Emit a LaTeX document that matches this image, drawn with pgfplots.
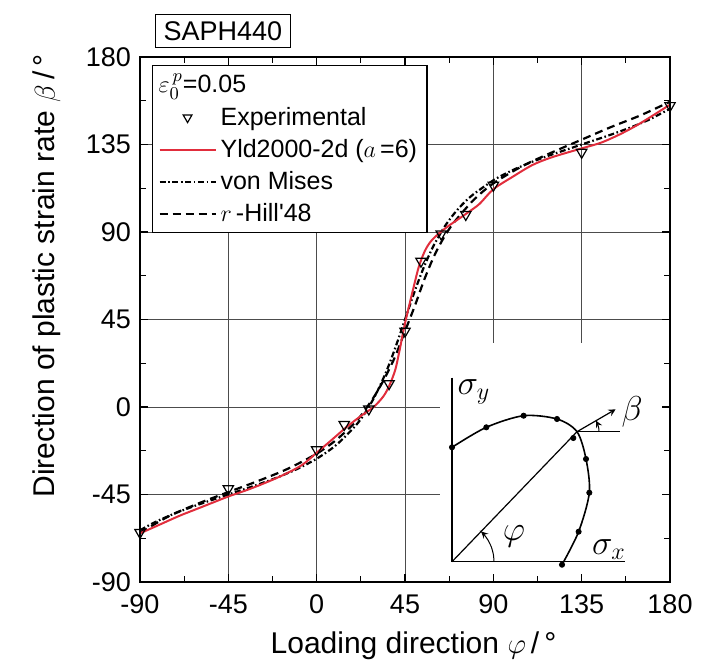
\documentclass[border=0pt]{standalone}
\usepackage{pgfplots}
\pgfplotsset{compat=1.18}
\usepackage{fontspec}
\setmainfont{Liberation Sans}
\definecolor{yldred}{RGB}{225,45,60}
\begin{document}
\begin{tikzpicture}[>=stealth]
\pgfplotsset{
 commonframe/.style={
  scale only axis, width=265pt, height=262.5pt,
  xmin=-90,xmax=180,ymin=-90,ymax=180,
  xtick={-90,-45,...,180}, ytick={-90,-45,...,180},
  minor x tick num=1, minor y tick num=1,
  tick align=inside, major tick length=4pt, minor tick length=3pt,
  every tick/.style={black, line width=0.6pt},
  axis line style={line width=1.1pt},
 }
}
\begin{axis}[name=main, commonframe,
  grid=major, grid style={line width=0.5pt, black!70},
  clip=false,
  /pgf/number format/assume math mode=true,
  tick label style={font=\fontsize{13.5}{15}\selectfont},
  xticklabel style={yshift=-3pt},
  yticklabel style={xshift=-1pt},
  xlabel={Loading direction $\varphi$\,/\,°},
  ylabel={Direction of plastic strain rate $\beta$\,/\,°},
  label style={font=\fontsize{15}{17}\selectfont},
  xlabel style={at={(axis description cs:0.516,-0.137)}, anchor=base},
  ylabel style={at={(axis description cs:-0.1604,0.583)}, anchor=base},
  legend image code/.code={\draw[mark repeat=2,mark phase=2,#1] plot coordinates {(0pt,0pt) (14pt,0pt) (28pt,0pt)};},
  legend cell align=left,
  legend style={at={(axis description cs:0.0226,0.985)}, anchor=north west,
    draw=black, line width=0.6pt, fill=white, inner xsep=3pt, inner ysep=2pt,
    row sep=1.5pt,
    font=\fontsize{12.5}{14.5}\selectfont},
]
\addlegendimage{empty legend}
\addlegendentry{\hspace*{-31pt}$\varepsilon_0^{\,p}$=0.05}
\addlegendimage{only marks, mark=triangle, mark size=2.5pt, mark options={rotate=180, fill=white, line width=0.6pt, solid}}
\addlegendentry{Experimental}
\addlegendimage{yldred, line width=1pt}
\addlegendentry{Yld2000-2d ($a$\,=6)}
\addlegendimage{black, line width=1pt, dash pattern=on 3pt off 1.3pt on 0.8pt off 1.3pt}
\addlegendentry{von Mises}
\addlegendimage{black, line width=1pt, dash pattern=on 4pt off 2.5pt}
\addlegendentry{$r$\,-Hill\textquotesingle 48}

% r-Hill'48
\addplot[forget plot, black, line width=1.1pt, dash pattern=on 4pt off 2.5pt, smooth, tension=0.5] coordinates {
(-90,-64.7) (-75,-56) (-60,-49.5) (-45,-43.75) (-30,-38.1) (-15,-31.9) (0,-24) (10,-16.9)
(20,-7.5) (25,-1) (30,6.5) (35,15.5) (40,26) (45,39) (50,52) (55,66) (60,78) (65,87.5)
(70,95) (80,106.5) (90,115) (105,124) (120,131) (135,137.5) (150,144) (165,150) (180,157)};
% von Mises
\addplot[forget plot, black, line width=1.1pt, dash pattern=on 3pt off 1.3pt on 0.8pt off 1.3pt, smooth, tension=0.5] coordinates {
(-90,-63.4) (-85,-60.6) (-80,-58.1) (-75,-55.9) (-70,-53.8) (-60,-50.1) (-50,-46.7) (-45,-45)
(-40,-43.3) (-30,-39.9) (-20,-36.2) (-15,-34.1) (-10,-31.9) (0,-26.6) (10,-19.5) (20,-9.4)
(25,-2.5) (30,6.2) (35,17.1) (38,24.8) (40,30.3) (42,36.1) (45,45) (48,53.9) (50,59.7)
(52,65.2) (55,72.9) (58,79.7) (60,83.8) (65,92.5) (70,99.4) (75,105) (80,109.5) (90,116.6)
(95,119.4) (100,121.9) (105,124.1) (110,126.2) (120,129.9) (130,133.3) (135,135) (140,136.7)
(150,140.1) (160,143.8) (165,145.9) (170,148.1) (180,153.4)};
% Yld2000-2d
\addplot[forget plot, yldred, line width=1pt, smooth, tension=0.5] coordinates {
(-90,-65) (-80,-60.5) (-70,-56) (-60,-52) (-50,-48) (-45,-46) (-35,-42.5) (-25,-38.5)
(-15,-34) (-7,-29.5) (0,-23.5) (7,-17.5) (15,-10.5) (22,-5) (29,0) (34,5.5) (37,11)
(40,19) (42,28) (45,43) (49,60) (52,72) (55,80) (58,85) (62,89)
(67,93) (72,96.5) (77,100) (83,104.5) (90,112) (100,118.5) (110,124.5) (120,128.5) (135,133)
(145,136) (155,140.5) (165,146) (180,155.5)};
% Experimental
\addplot[forget plot, only marks, mark=triangle, mark size=3pt, mark options={rotate=180, fill=white, line width=0.6pt}] coordinates {
(-90,-64.5) (-45,-42) (0,-22) (14.04,-9) (26.57,-1) (36.87,12) (45,39) (53.13,75)
(63.43,89) (75.96,99) (90,114) (135,131) (180,155)};
\end{axis}

% inset sketch
\begin{axis}[at={(main.south west)}, anchor=south west, xshift=150pt, yshift=1pt,
  scale only axis, width=114pt, height=118.5pt,
  xmin=-12, xmax=216, ymin=-18.3, ymax=218.7,
  axis line style={draw=none}, xtick=\empty, ytick=\empty,
  axis background/.style={fill=white}, clip=false]
\addplot[black, line width=0.6pt] coordinates {(0,184) (0,0) (173,0)};
\addplot[black, line width=0.8pt, smooth] coordinates {
(0,114.4) (34.3,134.4) (71.6,146) (105,142.7) (125,130) (134,102.7) (137.3,69) (126.6,30) (110,-3)};
\addplot[only marks, mark=*, mark size=1.3pt, black] coordinates {
(0,114.4) (34.3,134.4) (71.6,146) (105,142.7) (121.3,123.7) (134,102.7) (137.3,69) (126.6,30) (110,-3)};
\addplot[black, line width=0.6pt] coordinates {(0,0) (125,130)};
\addplot[black, line width=0.6pt] coordinates {(125,130) (168,130)};
\addplot[black, line width=0.6pt, ->] coordinates {(125,130) (163.6,152.4)};
\addplot[black, line width=0.5pt, smooth, ->] coordinates {(42,0) (41.36,7.29) (39.47,14.36) (36.37,21) (32.17,27) (29.18,30.21)};
\addplot[black, line width=0.5pt, smooth, ->] coordinates {(147,130) (146.7,133.8) (145.7,137.5) (144.1,141)};
\node at (axis cs:22,170) {\fontsize{17}{19}\selectfont$\sigma_y$};
\node at (axis cs:180,150) {\fontsize{17}{19}\selectfont$\beta$};
\node at (axis cs:62,25) {\fontsize{17}{19}\selectfont$\varphi$};
\node at (axis cs:157,12) {\fontsize{17}{19}\selectfont$\sigma_x$};
\end{axis}

% overlay frame and ticks
\begin{axis}[at={(main.south west)}, anchor=south west, commonframe, clip=false,
  xticklabels={}, yticklabels={}]
\node[draw, line width=0.6pt, anchor=south west, inner xsep=4pt, inner ysep=3.5pt,
  font=\fontsize{13.5}{15}\selectfont, yshift=4.5pt] at (axis description cs:0.0283,1) {SAPH440};
\end{axis}

\pgfresetboundingbox
\path[use as bounding box] ([xshift=-70pt,yshift=-41.5pt]main.south west) rectangle ([xshift=22.5pt,yshift=28.5pt]main.north east);
\end{tikzpicture}
\end{document}
